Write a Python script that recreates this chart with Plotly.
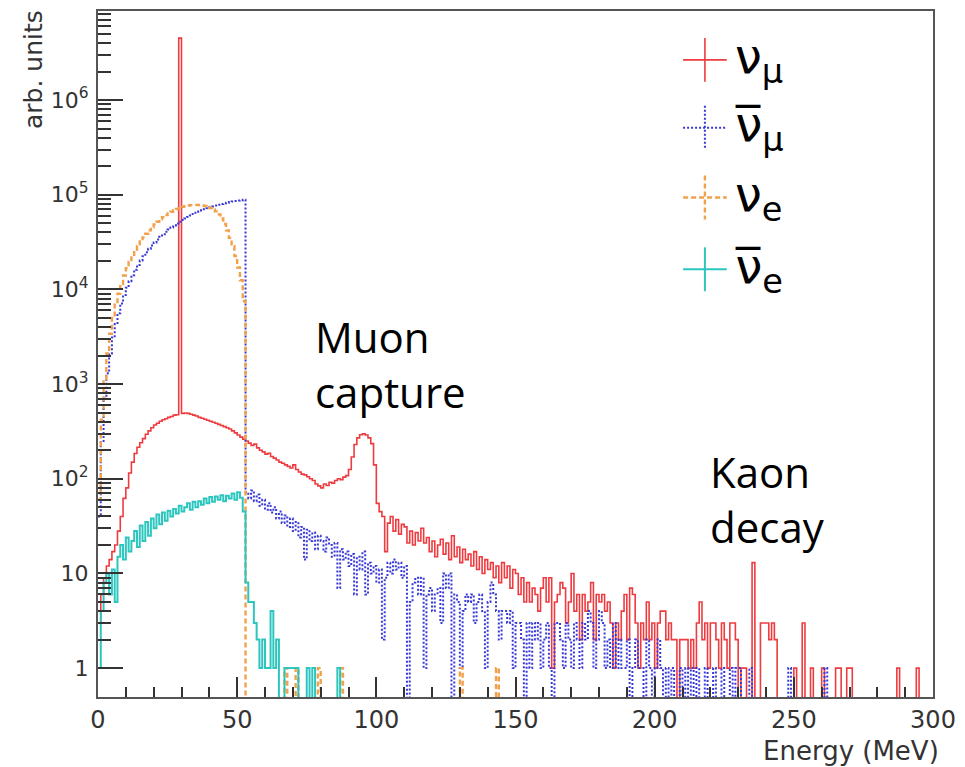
import numpy as np
import plotly.graph_objects as go

# ---------------- data (1 MeV bins, 0-300 MeV) ----------------
bin_edges = np.arange(0, 301, 1)

nu_mu = [
    3, 6, 9, 12, 14, 17, 20, 28, 40, 62,
    80, 115, 150, 185, 215, 240, 265, 295, 320, 345,
    370, 385, 405, 420, 430, 445, 455, 470, 475, 4500000,
    490, 495, 490, 480, 470, 460, 445, 435, 425, 415,
    405, 395, 385, 375, 365, 355, 345, 335, 320, 305,
    290, 275, 262, 250, 238, 225, 232, 212, 200, 192,
    182, 186, 172, 165, 158, 150, 146, 140, 135, 130,
    140, 125, 118, 112, 110, 105, 100, 96, 88, 84,
    80, 88, 85, 92, 90, 96, 100, 98, 104, 108,
    125, 170, 230, 270, 292, 298, 290, 270, 235, 140,
    55, 45, 40, 17, 34, 40, 28, 37, 26, 33,
    31, 21, 28, 20, 27, 22, 30, 21, 24, 17,
    22, 15, 20, 23, 16, 21, 14, 25, 15, 19,
    13, 18, 14, 16, 12, 17, 11, 15, 10, 14,
    11, 13, 9, 12, 8, 13, 9, 12, 7, 11,
    10, 6, 9, 5, 8, 5, 7, 6, 4, 7,
    9, 5, 9, 1, 5, 6, 8, 7, 3, 5,
    10, 4, 6, 2, 6, 4, 5, 8, 2, 6,
    5, 6, 4, 5, 3, 1, 3, 2, 4, 6,
    2, 7, 6, 3, 1, 3, 2, 5, 2, 3,
    1, 3, 4, 4, 2, 3, 2, 2, 0, 2,
    2, 2, 1, 2, 1, 3, 5, 2, 3, 1,
    3, 3, 2, 1, 3, 2, 1, 3, 3, 2,
    0, 1, 1, 0, 0, 13, 0, 0, 3, 3,
    3, 2, 3, 2, 0, 0, 0, 0, 0, 0,
    1, 0, 0, 3, 0, 0, 1, 0, 0, 0,
    1, 0, 0, 0, 0, 1, 1, 0, 0, 1,
    1, 0, 0, 0, 0, 0, 0, 0, 0, 0,
    0, 0, 0, 0, 0, 0, 0, 1, 0, 0,
    0, 0, 0, 0, 1, 0, 0, 0, 0, 0,
]

nu_mu_bar = [
    40, 250, 700, 1300, 2100, 3100, 4300, 5600, 7100, 8700,
    10400, 12200, 14100, 16100, 18100, 20200, 22400, 24600, 26800, 29100,
    31300, 33600, 35900, 38200, 40500, 42800, 45100, 47300, 49600, 51800,
    54000, 56200, 58300, 60400, 62500, 64500, 66400, 68300, 70100, 71900,
    73600, 75200, 76800, 78300, 79700, 81000, 82300, 83500, 84600, 85700,
    86700, 87600, 88400, 72, 62, 75, 58, 68, 52, 60,
    47, 55, 44, 50, 38, 45, 34, 41, 31, 38,
    28, 35, 24, 31, 14, 29, 22, 27, 18, 25,
    22, 17, 24, 20, 15, 21, 7, 18, 14, 17,
    12, 16, 6, 15, 11, 17, 6, 13, 10, 12,
    8, 11, 2, 9, 13, 10, 14, 11, 13, 9,
    12, 0, 5, 8, 9, 6, 9, 1, 6, 7,
    4, 6, 7, 3, 10, 7, 10, 0, 6, 5,
    1, 4, 6, 5, 6, 3, 5, 6, 4, 1,
    5, 8, 6, 4, 2, 4, 4, 3, 4, 1,
    3, 3, 2, 0, 3, 1, 3, 2, 3, 1,
    2, 3, 1, 0, 3, 3, 2, 1, 3, 2,
    1, 3, 2, 1, 3, 2, 4, 3, 1, 2,
    4, 3, 1, 2, 1, 3, 1, 2, 1, 1,
    2, 0, 1, 2, 1, 1, 0, 2, 1, 0,
    1, 2, 1, 0, 1, 0, 1, 0, 0, 1,
    0, 1, 0, 1, 0, 1, 0, 0, 1, 0,
    0, 1, 0, 0, 1, 0, 0, 1, 0, 1,
    1, 0, 0, 0, 1, 0, 0, 0, 0, 0,
    0, 0, 0, 0, 0, 0, 0, 0, 1, 0,
    0, 0, 0, 0, 0, 0, 0, 0, 0, 0,
    0, 1, 0, 0, 0, 0, 0, 0, 0, 0,
    0, 0, 0, 0, 0, 0, 0, 0, 0, 0,
    0, 0, 0, 0, 0, 0, 0, 0, 0, 0,
    0, 0, 0, 0, 0, 0, 0, 0, 0, 0,
]

nu_e = [
    60, 420, 1100, 2100, 3400, 5000, 6900, 9000, 11400, 14000,
    16700, 19500, 22500, 25600, 28800, 32000, 35400, 38700, 42000, 45300,
    48600, 51800, 54900, 57900, 60800, 63500, 66100, 68500, 70700, 72600,
    74300, 75700, 76800, 77600, 78000, 78000, 77700, 77000, 75900, 74300,
    72200, 69700, 66600, 62000, 56000, 49000, 42000, 35000, 28500, 22500,
    17000, 12500, 7500, 0, 0, 0, 0, 0, 0, 0,
    0, 0, 0, 0, 0, 0, 0, 1, 0, 0,
    0, 1, 0, 0, 0, 0, 0, 0, 0, 1,
    0, 0, 0, 0, 0, 0, 0, 1, 0, 0,
    0, 0, 0, 0, 0, 0, 0, 0, 0, 0,
    0, 0, 0, 0, 0, 0, 0, 0, 0, 0,
    0, 0, 0, 0, 0, 0, 0, 0, 0, 0,
    0, 0, 0, 0, 0, 0, 0, 0, 0, 0,
    1, 0, 0, 0, 0, 0, 0, 0, 0, 0,
    0, 0, 0, 1, 0, 0, 0, 0, 0, 0,
] + [0] * 150

nu_e_bar = [
    1, 4, 8, 10, 6, 11, 5, 15, 20, 14,
    24, 17, 22, 28, 19, 32, 22, 35, 25, 38,
    30, 42, 33, 44, 36, 46, 40, 48, 43, 52,
    45, 50, 55, 47, 57, 50, 58, 53, 62, 55,
    64, 57, 65, 60, 67, 58, 66, 62, 70, 60,
    72, 63, 45, 8, 5, 5, 3, 2, 1, 2,
    1, 1, 4, 1, 2, 0, 0, 1, 1, 1,
    1, 1, 0, 0, 0, 1, 0, 1, 0, 0,
    0, 0, 0, 0, 0, 0, 1, 0, 0, 0,
] + [0] * 210

series_names = ["ν<sub>μ</sub>", "ν̅<sub>μ</sub>", "ν<sub>e</sub>", "ν̅<sub>e</sub>"]
series_data = [nu_mu, nu_mu_bar, nu_e, nu_e_bar]
series_colors = ["#ee3b3f", "#3838d6", "#f2a04a", "#2cc6bf"]
series_dash = ["solid", "2px,2px", "5px,3px", "solid"]
series_width = [1.6, 2.0, 2.4, 2.0]

y_major = [1, 10, 100, 1000, 10000, 100000, 1000000]
y_major_text = ["1", "10", "10<sup>2</sup>", "10<sup>3</sup>", "10<sup>4</sup>",
                "10<sup>5</sup>", "10<sup>6</sup>"]

region_labels = ["Muon<br>capture", "Kaon<br>decay"]

# ---------------- figure ----------------
W, H = 965, 767
L, R, T, B = 98, 25, 9, 70
PW, PH = W - L - R, H - T - B


def px(x):
    return (x - L) / PW


def py(y):
    return (H - B - y) / PH


def step(vals):
    v = [a if a > 0 else 1e-3 for a in vals]
    return v + [v[-1]]


fig = go.Figure()
for name, data, col, dash, wid in zip(series_names, series_data, series_colors,
                                      series_dash, series_width):
    fig.add_trace(go.Scatter(
        x=bin_edges, y=step(data), mode="lines", name=name,
        line=dict(color=col, width=wid, dash=dash, shape="hv"),
        showlegend=False, hoverinfo="skip"))

minor_y = [k * 10 ** n for n in range(0, 7) for k in range(2, 10)]
minor_y = [v for v in minor_y if v < 8.7e6]

fig.update_layout(
    width=W, height=H,
    margin=dict(l=L, r=R, t=T, b=B, pad=0),
    paper_bgcolor="white", plot_bgcolor="white",
    xaxis=dict(
        range=[0, 300], tick0=0, dtick=50,
        showline=True, mirror=True, linecolor="#555555", linewidth=2,
        ticks="inside", ticklen=20, tickwidth=1.5, tickcolor="#333333",
        tickfont=dict(family="DejaVu Sans", size=24, color="#333333"),
        showgrid=False, zeroline=False,
        ticklabelstandoff=0,
        minor=dict(dtick=10, tick0=0, ticks="inside", ticklen=10,
                   tickwidth=1.5, tickcolor="#333333", showgrid=False),
    ),
    yaxis=dict(
        type="log", range=[-0.305, 6.94],
        tickmode="array", tickvals=y_major, ticktext=y_major_text,
        showline=True, mirror=True, linecolor="#555555", linewidth=2,
        ticks="inside", ticklen=25, tickwidth=1.5, tickcolor="#333333",
        tickfont=dict(family="DejaVu Sans", size=22, color="#333333"),
        showgrid=False, zeroline=False,
        ticklabelstandoff=3,
        minor=dict(tickmode="array", tickvals=minor_y, ticks="inside",
                   ticklen=13, tickwidth=1.5, tickcolor="#333333",
                   showgrid=False),
    ),
)

annotations = []
# axis titles
annotations.append(dict(text="Energy (MeV)", xref="paper", yref="paper",
                        x=px(948), y=py(751), xanchor="right", yanchor="middle",
                        showarrow=False,
                        font=dict(family="DejaVu Sans", size=26, color="#333333")))
annotations.append(dict(text="arb. units", xref="paper", yref="paper",
                        x=px(33), y=py(6), xanchor="center", yanchor="top",
                        textangle=-90, showarrow=False,
                        font=dict(family="DejaVu Sans", size=25, color="#333333")))
# region labels
lab_font = dict(family="Open Sans", size=42, color="black")
for txt, x0, yc in zip(region_labels, [315, 713], [363, 498]):
    annotations.append(dict(text=txt, xref="paper", yref="paper",
                            x=px(x0), y=py(yc), xanchor="left", yanchor="middle",
                            align="left", showarrow=False, font=lab_font))

# legend
shapes = []
leg_y = [58, 126, 196, 268]
for name, col, dash, wid, yc in zip(series_names, series_colors, series_dash,
                                    series_width, leg_y):
    shapes.append(dict(type="line", xref="paper", yref="paper",
                       x0=px(688), x1=px(732), y0=py(yc), y1=py(yc),
                       line=dict(color=col, width=wid, dash=dash)))
    shapes.append(dict(type="line", xref="paper", yref="paper",
                       x0=px(710), x1=px(710), y0=py(yc - 22), y1=py(yc + 22),
                       line=dict(color=col, width=wid, dash=dash)))
    annotations.append(dict(text=name, xref="paper", yref="paper",
                            x=px(738), y=py(yc), xanchor="left", yanchor="middle",
                            showarrow=False,
                            font=dict(family="DejaVu Sans", size=48, color="black")))

fig.update_layout(annotations=annotations, shapes=shapes)
fig.write_html("out.html")
